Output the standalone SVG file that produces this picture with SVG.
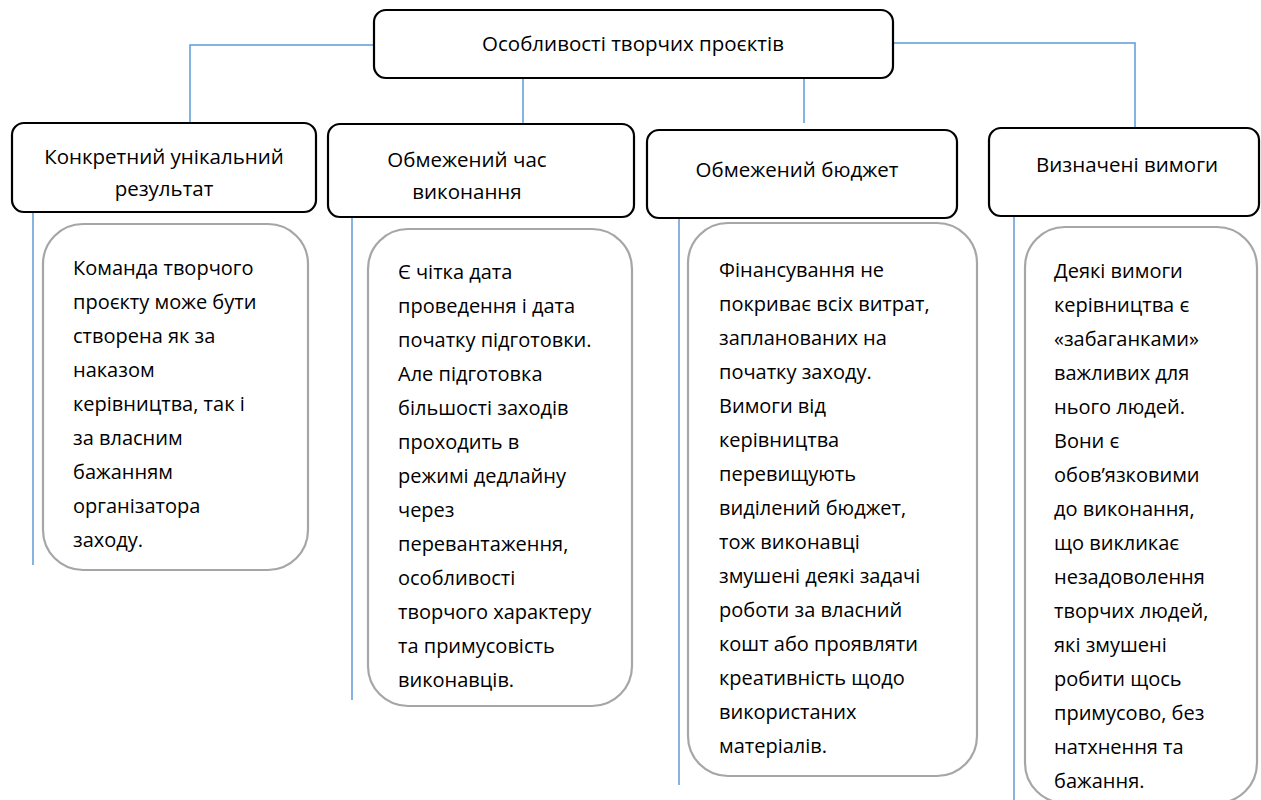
<svg xmlns="http://www.w3.org/2000/svg" width="1261" height="800" viewBox="0 0 1261 800">
<style>
.hdr{fill:#fff;stroke:#000;stroke-width:2.2}
.body{fill:#fff;stroke:#a6a6a6;stroke-width:2.2}
.conn{fill:none;stroke:#5b9bd5;stroke-width:1.5}
.ht{font-family:"Open Sans","Noto Sans",sans-serif;font-size:20.5px;fill:#000;text-anchor:middle}
.bt{font-family:"Open Sans","Noto Sans",sans-serif;font-size:20px;fill:#000}
</style>
<rect width="1261" height="800" fill="#fff"/>
<g id="connectors">
<polyline class="conn" points="374,45 190,45 190,123"/>
<line class="conn" x1="523" y1="78" x2="523" y2="124"/>
<line class="conn" x1="804" y1="78" x2="804" y2="123"/>
<polyline class="conn" points="893,43 1135,43 1135,128"/>
<line class="conn" x1="33" y1="212" x2="33" y2="565"/>
<line class="conn" x1="352" y1="217" x2="352" y2="700"/>
<line class="conn" x1="679" y1="218" x2="679" y2="785"/>
<line class="conn" x1="1014" y1="216" x2="1014" y2="800"/>
</g>
<g id="root">
<rect class="hdr" x="374" y="10" width="519" height="68" rx="12"/>
<text class="ht" x="633" y="51">Особливості творчих проєктів</text>
</g>
<g id="h1">
<rect class="hdr" x="12" y="123" width="304" height="89" rx="12"/>
<text class="ht" x="164" y="164">Конкретний унікальний</text>
<text class="ht" x="164" y="196">результат</text>
</g>
<g id="h2">
<rect class="hdr" x="328" y="124" width="306" height="93" rx="12"/>
<text class="ht" x="467" y="167">Обмежений час</text>
<text class="ht" x="467" y="199">виконання</text>
</g>
<g id="h3">
<rect class="hdr" x="647" y="130" width="310" height="88" rx="12"/>
<text class="ht" x="797" y="177">Обмежений бюджет</text>
</g>
<g id="h4">
<rect class="hdr" x="989" y="128" width="270" height="88" rx="12"/>
<text class="ht" x="1127" y="172">Визначені вимоги</text>
</g>
<g id="b1">
<rect class="body" x="43" y="224" width="265" height="346" rx="40"/>
<text class="bt" x="73" y="275">Команда творчого</text>
<text class="bt" x="73" y="309">проєкту може бути</text>
<text class="bt" x="73" y="343">створена як за</text>
<text class="bt" x="73" y="377">наказом</text>
<text class="bt" x="73" y="411">керівництва, так і</text>
<text class="bt" x="73" y="445">за власним</text>
<text class="bt" x="73" y="479">бажанням</text>
<text class="bt" x="73" y="513">організатора</text>
<text class="bt" x="73" y="547">заходу.</text>
</g>
<g id="b2">
<rect class="body" x="368" y="229" width="264" height="477" rx="40"/>
<text class="bt" x="398" y="279">Є чітка дата</text>
<text class="bt" x="398" y="313">проведення і дата</text>
<text class="bt" x="398" y="347">початку підготовки.</text>
<text class="bt" x="398" y="381">Але підготовка</text>
<text class="bt" x="398" y="415">більшості заходів</text>
<text class="bt" x="398" y="449">проходить в</text>
<text class="bt" x="398" y="483">режимі дедлайну</text>
<text class="bt" x="398" y="517">через</text>
<text class="bt" x="398" y="551">перевантаження,</text>
<text class="bt" x="398" y="585">особливості</text>
<text class="bt" x="398" y="619">творчого характеру</text>
<text class="bt" x="398" y="653">та примусовість</text>
<text class="bt" x="398" y="687">виконавців.</text>
</g>
<g id="b3">
<rect class="body" x="688" y="223" width="289" height="553" rx="40"/>
<text class="bt" x="719" y="277">Фінансування не</text>
<text class="bt" x="719" y="311">покриває всіх витрат,</text>
<text class="bt" x="719" y="345">запланованих на</text>
<text class="bt" x="719" y="379">початку заходу.</text>
<text class="bt" x="719" y="413">Вимоги від</text>
<text class="bt" x="719" y="447">керівництва</text>
<text class="bt" x="719" y="481">перевищують</text>
<text class="bt" x="719" y="515">виділений бюджет,</text>
<text class="bt" x="719" y="549">тож виконавці</text>
<text class="bt" x="719" y="583">змушені деякі задачі</text>
<text class="bt" x="719" y="617">роботи за власний</text>
<text class="bt" x="719" y="651">кошт або проявляти</text>
<text class="bt" x="719" y="685">креативність щодо</text>
<text class="bt" x="719" y="719">використаних</text>
<text class="bt" x="719" y="753">матеріалів.</text>
</g>
<g id="b4">
<rect class="body" x="1025" y="227" width="232" height="576" rx="40"/>
<text class="bt" x="1054" y="278">Деякі вимоги</text>
<text class="bt" x="1054" y="312">керівництва є</text>
<text class="bt" x="1054" y="346">«забаганками»</text>
<text class="bt" x="1054" y="380">важливих для</text>
<text class="bt" x="1054" y="414">нього людей.</text>
<text class="bt" x="1054" y="448">Вони є</text>
<text class="bt" x="1054" y="482">обов’язковими</text>
<text class="bt" x="1054" y="516">до виконання,</text>
<text class="bt" x="1054" y="550">що викликає</text>
<text class="bt" x="1054" y="584">незадоволення</text>
<text class="bt" x="1054" y="618">творчих людей,</text>
<text class="bt" x="1054" y="652">які змушені</text>
<text class="bt" x="1054" y="686">робити щось</text>
<text class="bt" x="1054" y="720">примусово, без</text>
<text class="bt" x="1054" y="754">натхнення та</text>
<text class="bt" x="1054" y="788">бажання.</text>
</g>
</svg>
